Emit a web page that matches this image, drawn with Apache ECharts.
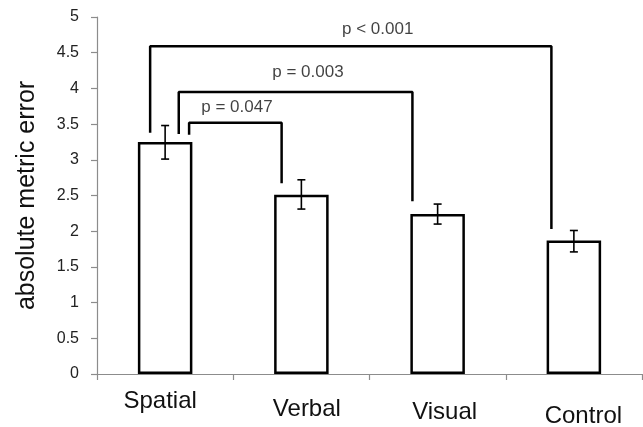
<!DOCTYPE html>
<html><head><meta charset="utf-8">
<script src="https://cdn.jsdelivr.net/npm/echarts@6/dist/echarts.min.js"></script>
<style>html,body{margin:0;padding:0;background:#fff}#c{width:643px;height:427px}</style>
</head><body><div id="c"></div>
<script>
const categories = ['Spatial', 'Verbal', 'Visual', 'Control'];
const means = [3.25, 2.51, 2.24, 1.87];
const errLow = [3.01, 2.31, 2.10, 1.71];
const errHigh = [3.48, 2.72, 2.38, 2.01];
const yMin = 0, yMax = 5, yStep = 0.5;

// significance brackets (x in category units, category i centred at i)
const bracketLabels = ['p = 0.047', 'p = 0.003', 'p < 0.001'];
const bracketLeftX = [0.176, 0.10, -0.11];
const bracketRightX = [0.855, 1.815, 2.835];
const bracketLevel = [3.52, 3.95, 4.59];
const bracketLeftEnd = [3.35, 3.36, 3.38];
const bracketRightEnd = [2.67, 2.42, 2.03];
const labelX = [0.527, 1.048, 1.56];
const labelY = [3.73, 4.22, 4.83];

const FONT = '"Liberation Sans", Arial, sans-serif';
const chart = echarts.init(document.getElementById('c'), null, {renderer: 'canvas'});

const bracketSeries = bracketLabels.map((lab, i) => ({
  type: 'line', xAxisIndex: 1, yAxisIndex: 0, silent: true, symbol: 'none', z: 5,
  lineStyle: {color: '#000', width: 2.5},
  data: [[bracketLeftX[i], bracketLeftEnd[i]], [bracketLeftX[i], bracketLevel[i]],
         [bracketRightX[i], bracketLevel[i]], [bracketRightX[i], bracketRightEnd[i]]]
}));

const rich = {
  s0: {fontSize: 24, fontFamily: FONT, color: '#111', padding: [0, 10, 0, 0]},
  s1: {fontSize: 24, fontFamily: FONT, color: '#111', padding: [8, 0, 0, 11]},
  s2: {fontSize: 24, fontFamily: FONT, color: '#111', padding: [11, 0, 0, 14]},
  s3: {fontSize: 24, fontFamily: FONT, color: '#111', padding: [15, 0, 0, 19]}
};

chart.setOption({
  animation: false,
  backgroundColor: '#fff',
  grid: {left: 97, right: 1, top: 17, bottom: 53, containLabel: false, outerBoundsMode: 'none'},
  xAxis: [{
    type: 'category', data: categories, boundaryGap: true,
    axisLine: {show: true, onZero: false, lineStyle: {color: '#8c8c8c', width: 1.2}},
    axisTick: {show: true, length: 6, alignWithLabel: false, lineStyle: {color: '#8c8c8c', width: 1.2}},
    axisLabel: {margin: 15, interval: 0,
      formatter: (v, i) => '{s' + i + '|' + v + '}', rich: rich},
    splitLine: {show: false}
  }, {
    type: 'value', min: -0.5, max: 3.5, show: false
  }],
  yAxis: {
    type: 'value', min: yMin, max: yMax, interval: yStep,
    name: 'absolute metric error', nameLocation: 'middle', nameGap: 57,
    nameTextStyle: {fontSize: 25, fontFamily: FONT, color: '#111'},
    axisLine: {show: true, onZero: false, lineStyle: {color: '#8c8c8c', width: 1.2}},
    axisTick: {show: true, length: 6, lineStyle: {color: '#8c8c8c', width: 1.2}},
    axisLabel: {fontSize: 16, fontFamily: FONT, color: '#222', margin: 18},
    splitLine: {show: false}
  },
  series: [{
    type: 'bar', data: means, barWidth: '40%', z: 2,
    itemStyle: {color: '#fff', borderColor: '#000', borderWidth: 2.5}
  }, {
    type: 'custom', z: 4, silent: true,
    data: categories.map((c, i) => [i, errLow[i], errHigh[i]]),
    renderItem: function (params, api) {
      const x = api.value(0);
      const lo = api.coord([x, api.value(1)]);
      const hi = api.coord([x, api.value(2)]);
      const w = 4;
      const st = {stroke: '#000', lineWidth: 1.6};
      return {type: 'group', children: [
        {type: 'line', shape: {x1: lo[0], y1: lo[1], x2: hi[0], y2: hi[1]}, style: st},
        {type: 'line', shape: {x1: lo[0] - w, y1: lo[1], x2: lo[0] + w, y2: lo[1]}, style: st},
        {type: 'line', shape: {x1: hi[0] - w, y1: hi[1], x2: hi[0] + w, y2: hi[1]}, style: st}
      ]};
    }
  }].concat(bracketSeries).concat([{
    type: 'scatter', xAxisIndex: 1, symbolSize: 0, silent: true, z: 6,
    data: bracketLabels.map((l, i) => [labelX[i], labelY[i], l]),
    label: {show: true, position: 'inside', formatter: p => p.data[2],
      fontSize: 17, fontFamily: FONT, color: '#111'}
  }])
});
</script>
</body></html>
